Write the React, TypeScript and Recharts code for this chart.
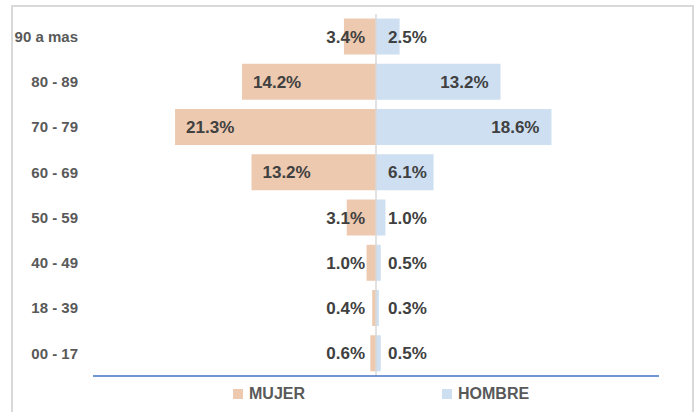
import { BarChart, Bar, XAxis, YAxis, ReferenceLine, LabelList, Legend } from "recharts";

const grupos = ["90 a mas", "80 - 89", "70 - 79", "60 - 69", "50 - 59", "40 - 49", "18 - 39", "00 - 17"];
const mujer = [3.4, 14.2, 21.3, 13.2, 3.1, 1.0, 0.4, 0.6];
const hombre = [2.5, 13.2, 18.6, 6.1, 1.0, 0.5, 0.3, 0.5];

const data = grupos.map((grupo, i) => ({ grupo, mujer: -mujer[i], hombre: hombre[i] }));

const FONT = "'Liberation Sans', Arial, sans-serif";
const MUJER_COLOR = "#ECC9AF";
const HOMBRE_COLOR = "#CDDFF0";

function GroupTick(props: any) {
  const { x, y, payload } = props;
  return (
    <text x={x} y={y} dy="0.35em" textAnchor="end" fontFamily={FONT} fontSize={15} fontWeight="bold" fill="#595959">
      {payload.value}
    </text>
  );
}

function makeLabel(side: "mujer" | "hombre") {
  return function BarLabel(props: any) {
    const { x, y, width, height, value } = props;
    const v = Math.abs(Number(value));
    const left = Math.min(x, x + width);
    const right = Math.max(x, x + width);
    const big = v >= 10;
    let tx: number;
    let anchor: "start" | "end";
    if (side === "mujer") {
      tx = big ? left + 11 : right - 11;
      anchor = big ? "start" : "end";
    } else {
      tx = big ? right - 12 : left + 12;
      anchor = big ? "end" : "start";
    }
    return (
      <text x={tx} y={y + height / 2} dy="0.36em" textAnchor={anchor} fontFamily={FONT} fontSize={17} fontWeight="bold" fill="#404040">
        {v.toFixed(1) + "%"}
      </text>
    );
  };
}

function LegendContent() {
  const item = (color: string, label: string, left: number) => (
    <div style={{ position: "absolute", left, top: 8, display: "flex", alignItems: "center" }}>
      <span style={{ width: 10, height: 10, background: color, display: "inline-block", marginRight: 6 }} />
      <span style={{ fontFamily: FONT, fontSize: 16, fontWeight: "bold", color: "#595959" }}>{label}</span>
    </div>
  );
  return (
    <div style={{ position: "relative", width: 696, height: 30 }}>
      {item(MUJER_COLOR, "MUJER", 233)}
      {item(HOMBRE_COLOR, "HOMBRE", 442)}
    </div>
  );
}

export default function App() {
  return (
    <div style={{ position: "absolute", left: 0, top: 0, width: 696, height: 412, background: "#fff", overflow: "hidden" }}>
      <div style={{ position: "absolute", left: 11, top: 5, width: 679, height: 420, border: "2px solid #D9D9D9" }} />
      <div style={{ position: "absolute", left: 0, top: 0 }}>
        <BarChart
          width={696}
          height={412}
          data={data}
          layout="vertical"
          stackOffset="sign"
          barCategoryGap="10%"
          margin={{ top: 14, right: 37, bottom: 5, left: 0 }}
        >
          <XAxis
            type="number"
            domain={[-30, 30]}
            allowDataOverflow
            tick={false}
            tickLine={false}
            height={1}
            axisLine={{ stroke: "#4472C4", strokeWidth: 1.5 }}
          />
          <YAxis
            type="category"
            dataKey="grupo"
            width={93}
            axisLine={false}
            tickLine={false}
            tickSize={0}
            tickMargin={15}
            tick={<GroupTick />}
            interval={0}
          />
          <Bar dataKey="mujer" name="MUJER" stackId="a" fill={MUJER_COLOR} isAnimationActive={false}>
            <LabelList dataKey="mujer" content={makeLabel("mujer")} />
          </Bar>
          <Bar dataKey="hombre" name="HOMBRE" stackId="a" fill={HOMBRE_COLOR} isAnimationActive={false}>
            <LabelList dataKey="hombre" content={makeLabel("hombre")} />
          </Bar>
          <ReferenceLine x={0} stroke="#D9D9D9" strokeWidth={1.5} />
          <Legend
            verticalAlign="bottom"
            height={30}
            content={<LegendContent />}
            wrapperStyle={{ left: 0, width: 696 }}
          />
        </BarChart>
      </div>
    </div>
  );
}
